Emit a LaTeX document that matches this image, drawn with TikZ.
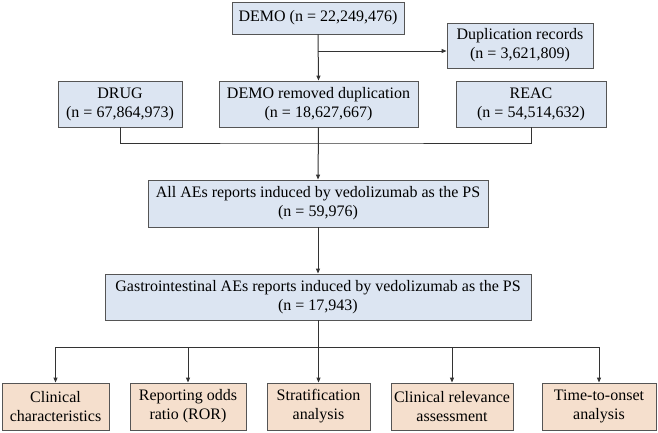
\documentclass[tikz,border=0pt]{standalone}
\usepackage{fontspec}
\setmainfont{Liberation Serif}
\usetikzlibrary{positioning, calc, arrows.meta}
\definecolor{BoxBlue}{HTML}{DCE5F2}
\definecolor{BoxTan}{HTML}{F5DFCD}
\definecolor{EdgeGray}{HTML}{555555}
\definecolor{LineDark}{HTML}{333333}

\begin{document}
\begin{tikzpicture}[
  x=1pt, y=-1pt,
  bluebox/.style={
    draw=EdgeGray, fill=BoxBlue, line width=0.9pt,
    minimum height=46pt, inner sep=1pt, align=center,
    font=\fontsize{16}{19}\selectfont
  },
  tanbox/.style={
    draw=EdgeGray, fill=BoxTan, line width=0.9pt,
    minimum height=47pt, inner sep=1pt, align=center,
    font=\fontsize{16}{19}\selectfont
  },
  link/.style={LineDark, line width=1pt},
  arr/.style={link, -{Triangle[length=5pt, width=4pt]}}
]
  \useasboundingbox (0,0) rectangle (658,432);
  % Source tables
  \node[bluebox, minimum width=172pt, minimum height=32pt] (demo) at (318,18) {DEMO (n = 22,249,476)};
  \node[bluebox, minimum width=146pt, minimum height=45pt] (dup) at (520,45.5) {Duplication records\\(n = 3,621,809)};
  \node[bluebox, minimum width=124pt] (drug) at (120,104) {DRUG\\(n = 67,864,973)};
  \node[bluebox, minimum width=199pt] (demorm) at (318.5,104) {DEMO removed duplication\\(n = 18,627,667)};
  \node[bluebox, minimum width=150pt] (reac) at (531,104) {REAC\\(n = 54,514,632)};
  % Reports
  \node[bluebox, minimum width=340pt, minimum height=47pt] (allae) at (318,203.5) {All AEs reports induced by vedolizumab as the PS\\(n = 59,976)};
  \node[bluebox, minimum width=426pt] (gastro) at (318,297) {Gastrointestinal AEs reports induced by vedolizumab as the PS\\(n = 17,943)};
  % Analyses
  \node[tanbox, minimum width=107pt] (clin) at (55.5,406.5) {Clinical\\characteristics};
  \node[tanbox, minimum width=116pt] (ror) at (188,406.5) {Reporting odds\\ratio (ROR)};
  \node[tanbox, minimum width=103pt] (strat) at (318.5,406.5) {Stratification\\analysis};
  \node[tanbox, minimum width=122pt] (relev) at (452,406.5) {Clinical relevance\\assessment};
  \node[tanbox, minimum width=114pt] (tto) at (599,406.5) {Time-to-onset\\analysis};

  \coordinate (branch) at (318,51);
  \coordinate (merge) at (318,143);
  \coordinate (split) at (318,347);

  \draw[arr] (demo.south) -- (demorm.north);
  \draw[arr] (branch) -- (branch -| dup.west);
  \draw[link] (drug.south) |- (merge) -| (reac.south);
  \draw[arr] (demorm.south) -- (allae.north);
  \draw[arr] (allae.south) -- (gastro.north);
  \draw[link] (gastro.south) -- (split);
  \draw[link] (split -| clin.north) -- (split -| tto.north);
  \foreach \n in {clin, ror, strat, relev, tto}
    \draw[arr] (split -| \n.north) -- (\n.north);
\end{tikzpicture}
\end{document}
